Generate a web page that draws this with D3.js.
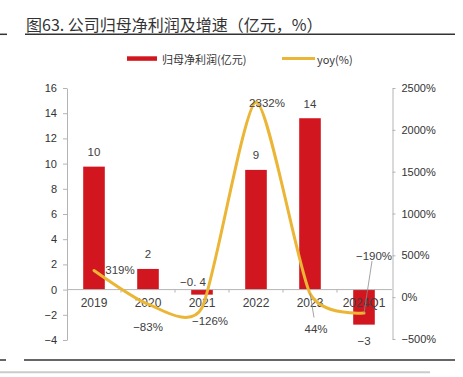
<!DOCTYPE html>
<html><head>
<meta charset="utf-8">
<title>公司归母净利润及增速</title>
<script src="https://d3js.org/d3.v7.min.js"></script>
<style>
  body { margin: 0; background: #fff; }
  svg { display: block; }
  .axis text { font-family: "Liberation Sans", Arial, sans-serif; font-size: 11px; fill: #333; }
  .axis line, .axis path { stroke: #b4b4b4; }
  .xaxis text { font-size: 12px; fill: #404040; }
  .lbl { font-family: "Liberation Sans", Arial, sans-serif; font-size: 11.5px; fill: #404040; }
</style>
</head>
<body>
<svg id="chart" width="463" height="377"></svg>
<script>

// data
const categories = ["2019", "2020", "2021", "2022", "2023", "2024Q1"];
const profit = [9.76, 1.64, -0.4, 9.5, 13.6, -2.78];       // 亿元
const profitLabels = ["10", "2", "−0. 4", "9", "14", "−3"];
const yoy = [319, -83, -126, 2332, 44, -190];               // %
const yoyLabels = ["319%", "−83%", "−126%", "2332%", "44%", "−190%"];
const leftTicks = [-4, -2, 0, 2, 4, 6, 8, 10, 12, 14, 16];
const rightTicks = [-500, 0, 500, 1000, 1500, 2000, 2500];

const red = "#d2161f";
const gold = "#ebb535";

const svg = d3.select("svg#chart");
const margins = {top: 88, right: 71, bottom: 37, left: 67};
const width = +svg.attr("width");
const height = +svg.attr("height");
const chartWidth = width - margins.left - margins.right;   // 325
const chartHeight = height - margins.top - margins.bottom;

// title + rules
svg.append("text")
  .attr("x", 26).attr("y", 24)
  .attr("dominant-baseline", "central")
  .style("font-family", "'Noto Sans CJK SC', sans-serif")
  .style("font-size", "16px").style("font-weight", 400)
  .style("fill", "#333")
  .text("图63. 公司归母净利润及增速（亿元，%）");

[[0, 7, 34.3], [25, 455, 34.3], [0, 6, 360], [24, 455, 360]].forEach(d => {
  svg.append("line").attr("x1", d[0]).attr("x2", d[1]).attr("y1", d[2]).attr("y2", d[2])
    .attr("stroke", "#333").attr("stroke-width", 1.5);
});
svg.append("line").attr("x1", 0).attr("x2", 430).attr("y1", 372.3).attr("y2", 372.3)
  .attr("stroke", "#cbcbcb").attr("stroke-width", 2);

// legend
const legend = svg.append("g").style("font-family", "'Noto Sans CJK SC', sans-serif")
  .style("font-size", "11px").style("fill", "#333");
legend.append("rect").attr("x", 127).attr("y", 56.3).attr("width", 30).attr("height", 4.5).attr("fill", red);
legend.append("text").attr("x", 162).attr("y", 58.5).attr("dominant-baseline", "central").text("归母净利润(亿元)");
legend.append("line").attr("x1", 282).attr("x2", 315).attr("y1", 58.5).attr("y2", 58.5)
  .attr("stroke", gold).attr("stroke-width", 3);
legend.append("text").attr("x", 317).attr("y", 58.5).attr("dominant-baseline", "central").text("yoy(%)");

// scales
const x = d3.scaleBand().domain(categories).range([0, 324]).paddingInner(0.6).paddingOuter(0.3);
const yLeft = d3.scaleLinear().domain([-4, 16]).range([252, 0]);
const yRight = d3.scaleLinear().domain([-500, 2500]).range([251, 0]);

const chart = svg.append("g").attr("transform", "translate(" + margins.left + "," + margins.top + ")");

// left axis
chart.append("g").attr("class", "axis")
  .call(d3.axisLeft(yLeft).tickValues(leftTicks).tickSize(4).tickSizeOuter(0).tickPadding(6).tickFormat(d3.format("d")));

// right axis
chart.append("g").attr("class", "axis")
  .attr("transform", "translate(" + 325.5 + ",0)")
  .call(d3.axisRight(yRight).tickValues(rightTicks).tickSize(3).tickSizeOuter(0).tickPadding(6)
    .tickFormat(d => d3.format("d")(d) + "%"));

// bars
chart.selectAll("rect.bar").data(profit).join("rect")
  .attr("class", "bar")
  .attr("x", (d, i) => x(categories[i]))
  .attr("width", x.bandwidth())
  .attr("y", d => yLeft(Math.max(0, d)))
  .attr("height", d => Math.abs(yLeft(d) - yLeft(0)))
  .attr("fill", red);

// category axis along zero
const xAxis = chart.append("g").attr("class", "axis xaxis")
  .attr("transform", "translate(0," + yLeft(0) + ")")
  .call(d3.axisBottom(x).tickSize(0).tickSizeOuter(0).tickPadding(9));
xAxis.select(".domain").attr("d", "M0,0H325");
categories.forEach((c, i) => {
  const bx = x(c) + x.bandwidth() / 2 + x.step() / 2;
  if (i < categories.length - 1)
    xAxis.append("line").attr("x1", bx).attr("x2", bx).attr("y1", 0).attr("y2", 3).attr("stroke", "#b4b4b4");
});

// bar labels
chart.selectAll("text.plbl").data(profit).join("text")
  .attr("class", "lbl plbl")
  .attr("text-anchor", "middle")
  .attr("dominant-baseline", "central")
  .attr("x", (d, i) => x(categories[i]) + x.bandwidth() / 2 + (i === 2 ? -9 : 0))
  .attr("y", (d, i) => i === 2 ? yLeft(0) - 8 : (d >= 0 ? yLeft(d) - 14.5 : yLeft(d) + 16))
  .text((d, i) => profitLabels[i]);

// yoy line
const cx = i => x(categories[i]) + x.bandwidth() / 2;
const line = d3.line().x((d, i) => cx(i)).y(d => yRight(d)).curve(d3.curveCardinal.tension(0.35));
chart.append("path").datum(yoy)
  .attr("d", line)
  .attr("fill", "none").attr("stroke", gold).attr("stroke-width", 3)
  .attr("stroke-linecap", "round");

// yoy labels: offsets from the point
const yoyOff = [[26, 0], [0, 22.5], [8, 13], [11, 1], [6, 35.5], [10, -57]];
chart.selectAll("text.ylbl").data(yoy).join("text")
  .attr("class", "lbl ylbl")
  .attr("text-anchor", "middle")
  .attr("dominant-baseline", "central")
  .attr("x", (d, i) => cx(i) + yoyOff[i][0])
  .attr("y", (d, i) => yRight(d) + yoyOff[i][1])
  .text((d, i) => yoyLabels[i]);

// leader lines for 44% and -190%
[[4, 4, 24], [5, 8, -52]].forEach(l => {
  const i = l[0];
  chart.append("line")
    .attr("x1", cx(i)).attr("y1", yRight(yoy[i]))
    .attr("x2", cx(i) + l[1]).attr("y2", yRight(yoy[i]) + l[2])
    .attr("stroke", "#8c8c8c").attr("stroke-width", 0.8);
});

</script>
</body>
</html>
